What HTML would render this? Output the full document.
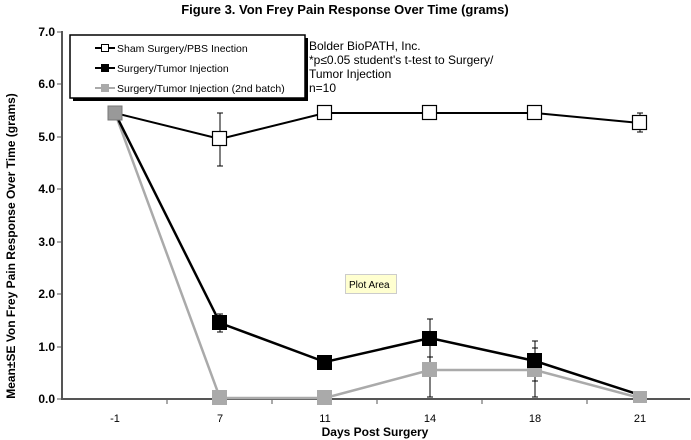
<!DOCTYPE html><html><head><style>body{margin:0;background:#fff}svg{display:block;font-family:"Liberation Sans",sans-serif}</style></head><body>
<svg width="691" height="440" viewBox="0 0 691 440">
<text x="345" y="14" font-size="13" font-weight="bold" text-anchor="middle">Figure 3. Von Frey Pain Response Over Time (grams)</text>
<g font-size="12" font-weight="bold" text-anchor="end">
<text x="55" y="403">0.0</text><text x="55" y="351">1.0</text><text x="55" y="298">2.0</text><text x="55" y="246">3.0</text><text x="55" y="193">4.0</text><text x="55" y="141">5.0</text><text x="55" y="88">6.0</text><text x="55" y="36">7.0</text></g>
<g stroke="#555" stroke-width="2"><line x1="62" y1="31" x2="62" y2="400"/><line x1="61" y1="399" x2="690" y2="399"/></g>
<g stroke="#555" stroke-width="1">
<line x1="57" y1="399" x2="62" y2="399"/><line x1="57" y1="347" x2="62" y2="347"/><line x1="57" y1="294" x2="62" y2="294"/><line x1="57" y1="242" x2="62" y2="242"/><line x1="57" y1="189" x2="62" y2="189"/><line x1="57" y1="137" x2="62" y2="137"/><line x1="57" y1="84" x2="62" y2="84"/><line x1="57" y1="32" x2="62" y2="32"/>
<line x1="167" y1="399" x2="167" y2="404"/><line x1="272" y1="399" x2="272" y2="404"/><line x1="377" y1="399" x2="377" y2="404"/><line x1="482" y1="399" x2="482" y2="404"/><line x1="587" y1="399" x2="587" y2="404"/></g>
<g font-size="11" text-anchor="middle"><text x="115" y="422">-1</text><text x="220" y="422">7</text><text x="325" y="422">11</text><text x="430" y="422">14</text><text x="535" y="422">18</text><text x="640" y="422">21</text></g>
<text x="375" y="436" font-size="12" font-weight="bold" text-anchor="middle">Days Post Surgery</text>
<text transform="translate(15,246) rotate(-90)" font-size="12" font-weight="bold" text-anchor="middle">Mean±SE Von Frey Pain Response Over Time (grams)</text>
<g stroke="#000" stroke-width="1">
<line x1="220" y1="113" x2="220" y2="166"/><line x1="217" y1="113" x2="223" y2="113"/><line x1="217" y1="166" x2="223" y2="166"/>
<line x1="640" y1="113" x2="640" y2="132"/><line x1="637" y1="113" x2="643" y2="113"/><line x1="637" y1="132" x2="643" y2="132"/>
<line x1="220" y1="314" x2="220" y2="332"/><line x1="217" y1="314" x2="223" y2="314"/><line x1="217" y1="332" x2="223" y2="332"/>
<line x1="325" y1="357" x2="325" y2="369"/><line x1="430" y1="319" x2="430" y2="397"/><line x1="427" y1="319" x2="433" y2="319"/><line x1="427" y1="397" x2="433" y2="397"/>
<line x1="535" y1="341" x2="535" y2="397"/><line x1="532" y1="341" x2="538" y2="341"/><line x1="532" y1="397" x2="538" y2="397"/><line x1="532" y1="348" x2="538" y2="348"/><line x1="427" y1="357" x2="433" y2="357"/><line x1="532" y1="381" x2="538" y2="381"/></g>
<polyline points="115,113 220,398 325,398 430,370 535,370 640,398" fill="none" stroke="#aaa" stroke-width="2.5"/>
<g fill="#aaa"><rect x="212" y="390" width="15" height="15"/><rect x="317" y="390" width="15" height="15"/><rect x="422" y="362" width="15" height="15"/><rect x="527" y="362" width="15" height="15"/></g>
<polyline points="115,113 220,323 325,362 430,338 535,361 640,395" fill="none" stroke="#000" stroke-width="2.5"/>
<g fill="#000"><rect x="212" y="315" width="15" height="15"/><rect x="317" y="355" width="15" height="15"/><rect x="422" y="331" width="15" height="15"/><rect x="527" y="353" width="15" height="15"/><rect x="633" y="391" width="14" height="9" fill="#666"/></g>
<rect x="633" y="391" width="14" height="12" fill="#aaa"/>
<polyline points="115,113 220,139 325,113 430,113 535,113 640,123" fill="none" stroke="#000" stroke-width="2"/>
<g fill="#fff" stroke="#000" stroke-width="1.2"><rect x="212.5" y="131.5" width="14" height="14"/><rect x="317.5" y="105.5" width="14" height="14"/><rect x="422.5" y="105.5" width="14" height="14"/><rect x="527.5" y="105.5" width="14" height="14"/><rect x="632.5" y="115.5" width="14" height="14"/></g>
<rect x="108" y="106" width="14" height="14" fill="#999" stroke="#777"/>
<rect x="73" y="38" width="235" height="63" fill="#000"/>
<rect x="70" y="35" width="235" height="63" fill="#fff" stroke="#000" stroke-width="1.5"/>
<g stroke-width="2"><line x1="95" y1="48" x2="115" y2="48" stroke="#000"/><line x1="95" y1="68" x2="115" y2="68" stroke="#000"/><line x1="95" y1="88" x2="115" y2="88" stroke="#aaa"/></g>
<rect x="101.5" y="44.5" width="7" height="7" fill="#fff" stroke="#000"/><rect x="101" y="64" width="8" height="8"/><rect x="101" y="84" width="8" height="8" fill="#aaa"/>
<g font-size="10.5"><text x="117" y="52">Sham Surgery/PBS Inection</text><text x="117" y="72">Surgery/Tumor Injection</text><text x="117" y="92">Surgery/Tumor Injection (2nd batch)</text></g>
<g font-size="12"><text x="309" y="50">Bolder BioPATH, Inc.</text><text x="309" y="64">*p≤0.05 student's t-test to Surgery/</text><text x="309" y="78">Tumor Injection</text><text x="309" y="92">n=10</text></g>
<rect x="345.5" y="274.5" width="51" height="19" fill="#ffffd0" stroke="#ccc"/>
<text x="349" y="288" font-size="10">Plot Area</text>
</svg></body></html>
